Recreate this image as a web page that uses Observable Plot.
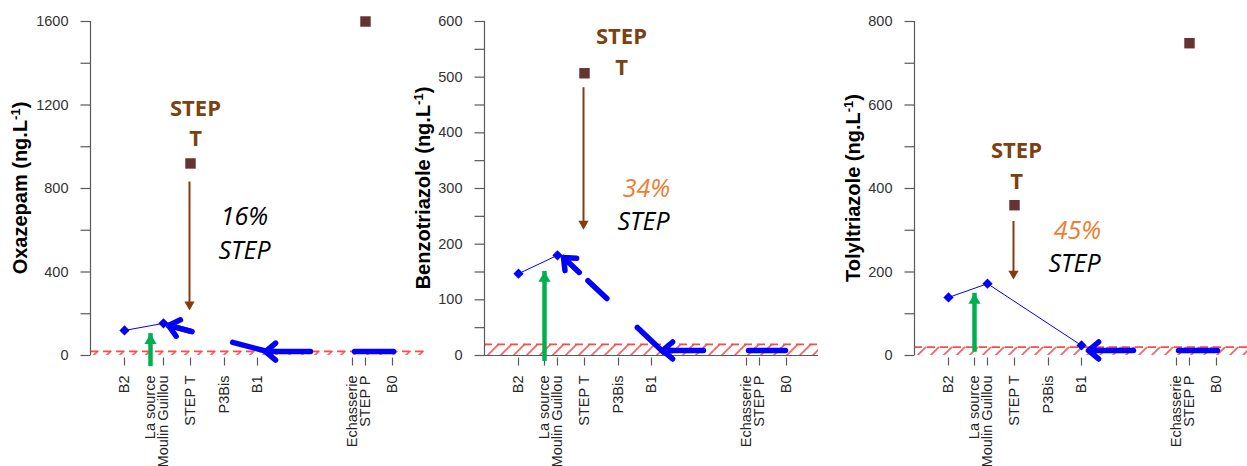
<!DOCTYPE html>
<html><head><meta charset="utf-8">
<script src="https://cdn.jsdelivr.net/npm/d3@7"></script>
<script src="https://cdn.jsdelivr.net/npm/@observablehq/plot@0.6"></script>
<style>
body{margin:0;background:#fff;overflow:hidden}
#wrap{position:relative;width:1247px;height:466px;overflow:hidden}
#wrap svg{position:absolute;top:0}
</style></head><body>
<svg width="0" height="0" style="position:absolute">
  <defs>
    <pattern id="hatch" patternUnits="userSpaceOnUse" width="9.2" height="10" patternTransform="rotate(45)">
      <line x1="4.6" y1="0" x2="4.6" y2="10" stroke="#ff4a4a" stroke-width="1.6"/>
    </pattern>
  </defs>
</svg>
<div id="wrap"></div>
<script>
// ---------- data ----------
const sites = ["B2", "La source", "Moulin Guillou", "STEP T", "P3Bis", "B1", "Echasserie", "STEP P", "B0"];
const sitePos = [34, 60, 73, 100, 134, 167, 262, 275, 302]; // distance along the river (arbitrary units)
const xMax = 334;
const loq = 20; // hatched band (ng/L)

// Oxazepam
const oxaRiverSites = ["B2", "Moulin Guillou"];
const oxaRiver = [120, 154];
const oxaStepSites = ["STEP T", "STEP P"];
const oxaStep = [920, 1600];
const oxaStepArrow = [831, 216];
const oxaGreenArrow = [-25, 105];
const oxaStepLabelXY = [105, 1123];
const oxaPct = "16%";
const oxaPctXY = [154, 662];
const oxaStepTextXY = [154, 499];
const oxaBackX = [177, 78];
const oxaBackY = [19, 144];
const oxaB1X = [220, 175];
const oxaB1Y = 19;
const oxaEchB0X = [264, 303];
const oxaEchB0Y = 19;

// Benzotriazole
const benRiverSites = ["B2", "Moulin Guillou"];
const benRiver = [147, 180];
const benStepSites = ["STEP T"];
const benStep = [507];
const benStepArrow = [481, 226];
const benGreenArrow = [0, 151];
const benStepLabelXY = [137, 550];
const benPct = "34%";
const benPctXY = [162, 300];
const benStepTextXY = [159, 239];
const benBackX = [179, 79];
const benBackY = [6, 176];
const benB1X = [219, 178];
const benB1Y = 9;
const benEchB0X = [264, 301];
const benEchB0Y = 9;

// Tolyltriazole
const tolRiverSites = ["B2", "Moulin Guillou", "B1"];
const tolRiver = [139, 172, 24];
const tolStepSites = ["STEP T", "STEP P"];
const tolStep = [360, 748];
const tolStepArrow = [321, 182];
const tolGreenArrow = [22, 149];
const tolStepLabelXY = [102, 459];
const tolPct = "45%";
const tolPctXY = [163, 299];
const tolStepTextXY = [160, 218];
const tolB1X = [219, 174];
const tolB1Y = 12;
const tolEchB0X = [264, 303];
const tolEchB0Y = 12;

// ---------- styles ----------
const AX = "#595959";
const RED = "#ff4a4a";
const BLUE = "#0000ff";
const BROWN = "#843c0c";
const BROWN_TXT = "#7a4210";
const SQUARE = "#663333";
const GREEN = "#00b050";
const ORANGE = "#ed7d31";
const THICK = 5.5;
const posOf = s => sitePos[sites.indexOf(s)];

// custom tick symbols (pure styling)
const hTick = {draw(ctx) { ctx.moveTo(-10, 0); ctx.lineTo(0, 0); }};
const vTick = {draw(ctx) { ctx.moveTo(0, 2); ctx.lineTo(0, 10); }};

const panels = [
  {left: 0, yMax: 1600, tickStep: 200, labelStep: 400, name: "Oxazepam", titleOff: 70, xLine: false,
   riverSites: oxaRiverSites, river: oxaRiver, stepSites: oxaStepSites, step: oxaStep, stepArrow: oxaStepArrow,
   green: oxaGreenArrow, stepLabel: oxaStepLabelXY, pct: oxaPct, pctXY: oxaPctXY, pctColor: "#000", stepText: oxaStepTextXY,
   backX: oxaBackX, backY: oxaBackY, headInset: 80, b1X: oxaB1X, b1Y: oxaB1Y, ebX: oxaEchB0X, ebY: oxaEchB0Y},
  {left: 394, yMax: 600, tickStep: 50, labelStep: 100, name: "Benzotriazole", titleOff: 61, xLine: true,
   riverSites: benRiverSites, river: benRiver, stepSites: benStepSites, step: benStep, stepArrow: benStepArrow,
   green: benGreenArrow, stepLabel: benStepLabelXY, pct: benPct, pctXY: benPctXY, pctColor: ORANGE, stepText: benStepTextXY,
   backX: benBackX, backY: benBackY, headInset: 116, b1X: benB1X, b1Y: benB1Y, ebX: benEchB0X, ebY: benEchB0Y},
  {left: 824, yMax: 800, tickStep: 100, labelStep: 200, name: "Tolyltriazole", titleOff: 61, xLine: false,
   riverSites: tolRiverSites, river: tolRiver, stepSites: tolStepSites, step: tolStep, stepArrow: tolStepArrow,
   green: tolGreenArrow, stepLabel: tolStepLabelXY, pct: tolPct, pctXY: tolPctXY, pctColor: ORANGE, stepText: tolStepTextXY,
   backX: null, backY: null, headInset: 0, b1X: tolB1X, b1Y: tolB1Y, ebX: tolEchB0X, ebY: tolEchB0Y}
];

const ML = 90, MT = 21, MB = 111, H = 466;

function makePanel(c) {
  const yTicks = d3.range(0, c.yMax + 1, c.tickStep);
  const yLabels = d3.range(0, c.yMax + 1, c.labelStep);
  const riverData = c.riverSites.map((s, i) => ({x: posOf(s), y: c.river[i]}));
  const stepData = c.stepSites.map((s, i) => ({x: posOf(s), y: c.step[i]}));
  const stepT = posOf("STEP T");
  const laSource = posOf("La source");
  const marks = [
    Plot.rect([loq], {x1: 0, x2: xMax, y1: 0, y2: d => d, fill: "url(#hatch)"}),
    Plot.ruleY([loq], {x1: 0, x2: xMax, stroke: RED, strokeWidth: 1.6, strokeDasharray: "8,5"}),
    c.xLine ? Plot.ruleY([0], {x1: 0, x2: xMax, stroke: AX, strokeWidth: 1.2}) : null,
    // y axis
    Plot.ruleX([0], {y1: 0, y2: c.yMax, stroke: AX, strokeWidth: 1.2}),
    Plot.dot(yTicks, {x: 0, y: d => d, symbol: hTick, stroke: AX, strokeWidth: 1.2, fill: "none"}),
    Plot.text(yLabels, {frameAnchor: "left", y: d => d, text: d => String(d), textAnchor: "end", dx: -22,
      fontSize: 14.5, fill: "#333"}),
    // x axis ticks and labels
    Plot.dot(sitePos, {x: d => d, frameAnchor: "bottom", symbol: vTick, stroke: AX, strokeWidth: 1.2, fill: "none"}),
    Plot.text(sites, {x: sitePos, text: d => d, frameAnchor: "bottom", rotate: -90, textAnchor: "end",
      lineAnchor: "middle", dy: 20, fontSize: 14.5, fill: "#262626"}),
    // thin river line with diamonds
    Plot.line(riverData, {x: "x", y: "y", stroke: BLUE, strokeWidth: 1}),
    Plot.dot(riverData, {x: "x", y: "y", symbol: "diamond2", r: 4.6, fill: BLUE, stroke: "none"}),
    // thick blue dashed back-line with head
    c.backX ? Plot.line(c.backX.map((x, i) => ({x, y: c.backY[i]})), {x: "x", y: "y", stroke: BLUE, strokeWidth: THICK,
      strokeDasharray: "36,42,26,200", strokeLinecap: "round"}) : null,
    c.backX ? Plot.arrow([0], {x1: c.backX[0], y1: c.backY[0], x2: c.backX[1], y2: c.backY[1], stroke: BLUE,
      strokeWidth: THICK, headLength: 3.6, headAngle: 80, insetStart: c.headInset, strokeLinecap: "round", strokeLinejoin: "round"}) : null,
    // B1 arrow and Echasserie-B0 segment
    Plot.arrow([0], {x1: c.b1X[0], y1: c.b1Y, x2: c.b1X[1], y2: c.b1Y, stroke: BLUE, strokeWidth: THICK,
      headLength: 3.6, headAngle: 80, strokeLinecap: "round", strokeLinejoin: "round"}),
    Plot.line(c.ebX.map(x => ({x, y: c.ebY})), {x: "x", y: "y", stroke: BLUE, strokeWidth: THICK, strokeLinecap: "round"}),
    // green arrow
    Plot.ruleX([laSource], {y1: c.green[0], y2: c.green[1], stroke: GREEN, strokeWidth: 4.5, insetTop: 6}),
    Plot.dot([laSource], {x: d => d, y: c.green[1], symbol: "triangle", r: 4.5, fill: GREEN, stroke: "none", dy: 6.9}),
    // brown arrow
    Plot.ruleX([stepT - 1], {y1: c.stepArrow[0], y2: c.stepArrow[1], stroke: BROWN, strokeWidth: 2, insetBottom: 5}),
    Plot.dot([stepT - 1], {x: d => d, y: c.stepArrow[1], symbol: "triangle", rotate: 180, r: 3.8, fill: BROWN, stroke: "none", dy: -5.9}),
    // STEP squares
    Plot.dot(stepData, {x: "x", y: "y", symbol: "square", r: 5.9, fill: SQUARE, stroke: "none"}),
    // annotations
    Plot.text(["STEP\nT"], {x: c.stepLabel[0], y: c.stepLabel[1], text: d => d, lineHeight: 1.4, fontSize: 22,
      fontWeight: "bold", fontFamily: "Open Sans", fill: BROWN_TXT}),
    Plot.text([c.pct], {x: c.pctXY[0], y: c.pctXY[1], text: d => d, fontSize: 25, fontStyle: "italic",
      fontFamily: "Open Sans", fill: c.pctColor}),
    Plot.text(["STEP"], {x: c.stepText[0], y: c.stepText[1], text: d => d, fontSize: 25, fontStyle: "italic",
      fontFamily: "Open Sans", fill: "#000"})
  ].filter(Boolean);

  const svg = Plot.plot({
    width: ML + xMax + 10, height: H,
    marginLeft: ML, marginRight: 10, marginTop: MT, marginBottom: MB,
    x: {domain: [0, xMax], axis: null},
    y: {domain: [0, c.yMax], axis: null},
    style: {background: "transparent", overflow: "visible", fontFamily: "Liberation Sans, Arial, sans-serif"},
    marks
  });
  const t = d3.select(svg).append("text")
    .attr("transform", `translate(${ML - c.titleOff},${(MT + (H - MB)) / 2}) rotate(-90)`)
    .attr("text-anchor", "middle").attr("dy", "0.35em")
    .attr("font-family", "Liberation Sans, Arial, sans-serif").attr("font-size", 20).attr("font-weight", "bold")
    .attr("fill", "#000");
  t.append("tspan").text(c.name + " (ng.L");
  t.append("tspan").attr("baseline-shift", "super").attr("font-size", 13).text("-1");
  t.append("tspan").text(")");
  svg.style.left = c.left + "px";
  return svg;
}

const wrap = document.getElementById("wrap");
panels.forEach(c => wrap.appendChild(makePanel(c)));
</script>
</body></html>
